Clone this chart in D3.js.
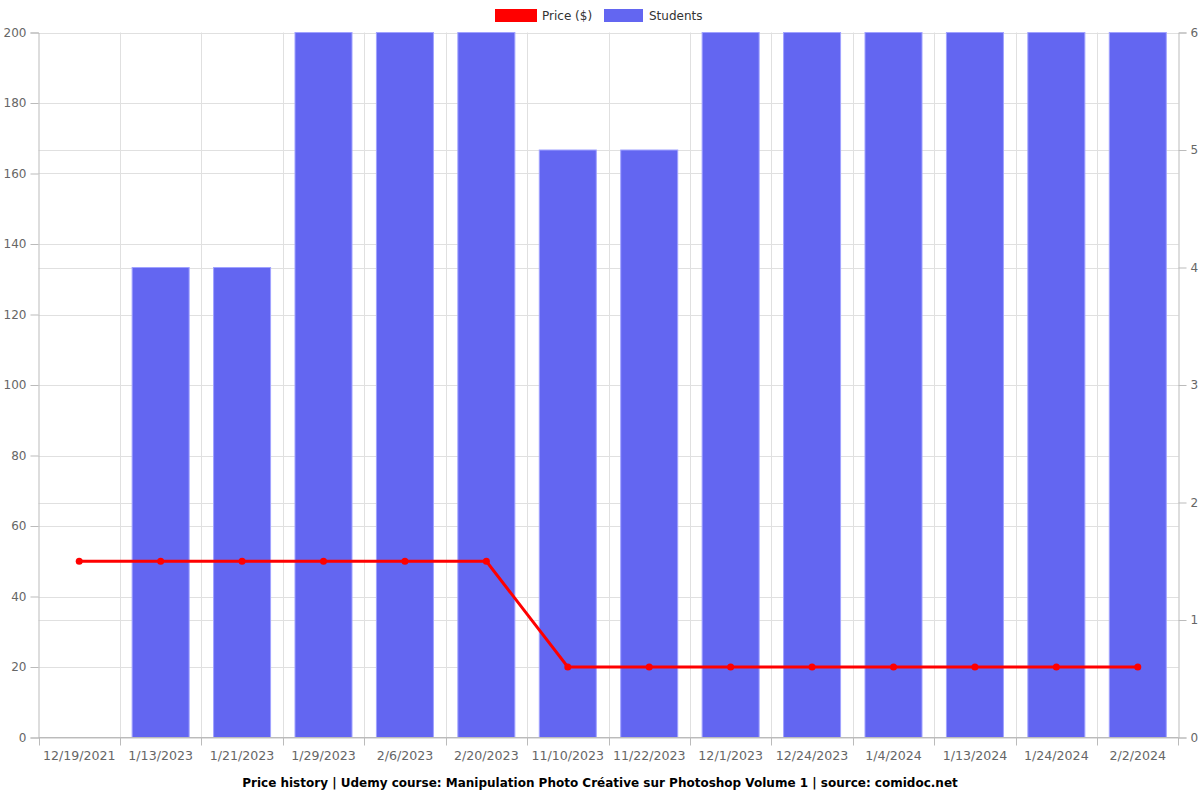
<!DOCTYPE html>
<html><head><meta charset="utf-8">
<script src="https://cdn.jsdelivr.net/npm/d3@7"></script>
<style>body{margin:0;background:#fff;font-family:"DejaVu Sans",sans-serif}</style>
</head><body><svg id="c" width="1200" height="800"></svg>
<script>
const categories = ["12/19/2021","1/13/2023","1/21/2023","1/29/2023","2/6/2023","2/20/2023","11/10/2023","11/22/2023","12/1/2023","12/24/2023","1/4/2024","1/13/2024","1/24/2024","2/2/2024"];
const students = [0,4,4,6,6,6,5,5,6,6,6,6,6,6];
const price = [50,50,50,50,50,50,20,20,20,20,20,20,20,20];
const leftTicks = [0,20,40,60,80,100,120,140,160,180,200];
const rightTicks = [0,1,2,3,4,5,6];
const title = "Price history | Udemy course: Manipulation Photo Créative sur Photoshop Volume 1 | source: comidoc.net";

const svg = d3.select("#c");
const L=38.5, R=1178.5, T=32.5, B=737.5;
const x = d3.scaleBand().domain(categories).range([L,R]);
const yL = d3.scaleLinear().domain([0,200]).range([B,T]);
const yR = d3.scaleLinear().domain([0,6]).range([B,T]);
const grid = "#e0e0e0", axisC="#bbb", txt="#666";

// grids
const g = svg.append("g");
leftTicks.forEach(t=>g.append("line").attr("x1",L).attr("x2",R).attr("y1",Math.round(yL(t))+0.5).attr("y2",Math.round(yL(t))+0.5).attr("stroke",grid));
rightTicks.forEach(t=>g.append("line").attr("x1",L).attr("x2",R).attr("y1",Math.round(yR(t))+0.5).attr("y2",Math.round(yR(t))+0.5).attr("stroke",grid));
categories.forEach((c,i)=>{ if(i>0){const xx=Math.round(x(c))+0.5; g.append("line").attr("x1",xx).attr("x2",xx).attr("y1",T).attr("y2",B).attr("stroke",grid);} });

// bars
const bw = x.bandwidth()*0.7;
svg.append("g").selectAll("rect").data(categories).join("rect")
  .attr("x",(d,i)=>x(d)+x.bandwidth()/2-bw/2)
  .attr("y",(d,i)=>yR(students[i]))
  .attr("width",bw)
  .attr("height",(d,i)=>B-yR(students[i]))
  .attr("fill","rgba(99,102,241,1)")
  .attr("stroke","rgba(160,162,255,1)").attr("stroke-width",1)
  .style("display",(d,i)=>students[i]>0?null:"none");

// axes
const axL = d3.axisLeft(yL).tickValues(leftTicks).tickSize(8).tickPadding(4);
const axR = d3.axisRight(yR).tickValues(rightTicks).tickFormat(d3.format("d")).tickSize(8).tickPadding(4);
const axB = d3.axisBottom(x).tickSize(0).tickPadding(14);
function style(sel,fs){sel.selectAll("path,line").attr("stroke",axisC);sel.selectAll("text").attr("fill",txt).style("font-size",(fs||12)+"px").style("font-family","DejaVu Sans");}
svg.append("g").attr("transform",`translate(${L},0)`).call(axL).call(style);
svg.append("g").attr("transform",`translate(${R},0)`).call(axR).call(style);
const gb = svg.append("g").attr("transform",`translate(0,${B})`).call(axB).call(s=>style(s,12.6));
gb.select(".domain").attr("d",`M${L},0H${R}`);
// bottom ticks at category boundaries
categories.forEach((c,i)=>{const xx=Math.round(x(c))+0.5; gb.append("line").attr("x1",xx).attr("x2",xx).attr("y1",0).attr("y2",8).attr("stroke",axisC);});
gb.append("line").attr("x1",R).attr("x2",R).attr("y1",0).attr("y2",8).attr("stroke",axisC);

// price line
const cx = (d)=>x(d)+x.bandwidth()/2;
svg.append("path").datum(categories).attr("fill","none").attr("stroke","#ff0000").attr("stroke-width",3)
  .attr("d",d3.line().x(d=>cx(d)).y((d,i)=>yL(price[i])));
svg.append("g").selectAll("circle").data(categories).join("circle")
  .attr("cx",d=>cx(d)).attr("cy",(d,i)=>yL(price[i])).attr("r",3.5).attr("fill","#ff0000");

// legend
const lg = svg.append("g").style("font-size","12px").style("font-family","DejaVu Sans");
lg.append("rect").attr("x",495).attr("y",9).attr("width",42).attr("height",13).attr("fill","#ff0000");
lg.append("text").attr("x",542).attr("y",20).attr("fill","#333").text("Price ($)");
lg.append("rect").attr("x",604).attr("y",9).attr("width",39).attr("height",13).attr("fill","rgba(99,102,241,1)");
lg.append("text").attr("x",649).attr("y",20).attr("fill","#333").text("Students");

svg.append("text").attr("x",600).attr("y",787).attr("text-anchor","middle").style("font-weight","bold").style("font-size","12px").style("font-family","DejaVu Sans").attr("fill","#000").text(title);
</script></body></html>
